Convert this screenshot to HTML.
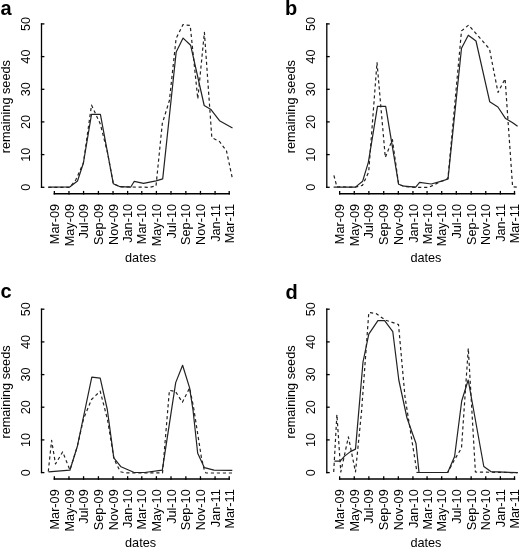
<!DOCTYPE html><html><head><meta charset="utf-8"><style>html,body{margin:0;padding:0;background:#fff;}svg{display:block;filter:grayscale(1);}text{font-family:"Liberation Sans", sans-serif;}</style></head><body>
<svg width="520" height="548" viewBox="0 0 520 548">
<rect width="520" height="548" fill="#fff"/>
<path d="M41.5 23.3V187.9" stroke="#000" stroke-width="1.3" fill="none"/>
<path d="M40.9 187.3H44.4" stroke="#000" stroke-width="1.3" fill="none"/>
<text transform="translate(29.60 187.30) rotate(-90)" text-anchor="middle" font-size="12.7">0</text>
<path d="M40.9 154.6H44.4" stroke="#000" stroke-width="1.3" fill="none"/>
<text transform="translate(29.60 154.62) rotate(-90)" text-anchor="middle" font-size="12.7">10</text>
<path d="M40.9 121.9H44.4" stroke="#000" stroke-width="1.3" fill="none"/>
<text transform="translate(29.60 121.94) rotate(-90)" text-anchor="middle" font-size="12.7">20</text>
<path d="M40.9 89.3H44.4" stroke="#000" stroke-width="1.3" fill="none"/>
<text transform="translate(29.60 89.26) rotate(-90)" text-anchor="middle" font-size="12.7">30</text>
<path d="M40.9 56.6H44.4" stroke="#000" stroke-width="1.3" fill="none"/>
<text transform="translate(29.60 56.58) rotate(-90)" text-anchor="middle" font-size="12.7">40</text>
<path d="M40.9 23.9H44.4" stroke="#000" stroke-width="1.3" fill="none"/>
<text transform="translate(29.60 23.90) rotate(-90)" text-anchor="middle" font-size="12.7">50</text>
<text transform="translate(9.60 106.70) rotate(-90)" text-anchor="middle" font-size="12.7">remaining seeds</text>
<path d="M53.65 193.80H229.90" stroke="#000" stroke-width="1.5" fill="none"/>
<path d="M54.35 194.50V190.90" stroke="#000" stroke-width="1.3" fill="none"/>
<text transform="translate(58.95 204.00) rotate(-90)" text-anchor="end" font-size="12.7">Mar-09</text>
<path d="M68.96 194.50V190.90" stroke="#000" stroke-width="1.3" fill="none"/>
<text transform="translate(73.56 204.00) rotate(-90)" text-anchor="end" font-size="12.7">May-09</text>
<path d="M83.57 194.50V190.90" stroke="#000" stroke-width="1.3" fill="none"/>
<text transform="translate(88.17 204.00) rotate(-90)" text-anchor="end" font-size="12.7">Jul-09</text>
<path d="M98.42 194.50V190.90" stroke="#000" stroke-width="1.3" fill="none"/>
<text transform="translate(103.02 204.00) rotate(-90)" text-anchor="end" font-size="12.7">Sep-09</text>
<path d="M113.03 194.50V190.90" stroke="#000" stroke-width="1.3" fill="none"/>
<text transform="translate(117.63 204.00) rotate(-90)" text-anchor="end" font-size="12.7">Nov-09</text>
<path d="M127.64 194.50V190.90" stroke="#000" stroke-width="1.3" fill="none"/>
<text transform="translate(132.24 204.00) rotate(-90)" text-anchor="end" font-size="12.7">Jan-10</text>
<path d="M141.78 194.50V190.90" stroke="#000" stroke-width="1.3" fill="none"/>
<text transform="translate(146.38 204.00) rotate(-90)" text-anchor="end" font-size="12.7">Mar-10</text>
<path d="M156.39 194.50V190.90" stroke="#000" stroke-width="1.3" fill="none"/>
<text transform="translate(160.99 204.00) rotate(-90)" text-anchor="end" font-size="12.7">May-10</text>
<path d="M171.00 194.50V190.90" stroke="#000" stroke-width="1.3" fill="none"/>
<text transform="translate(175.60 204.00) rotate(-90)" text-anchor="end" font-size="12.7">Jul-10</text>
<path d="M185.85 194.50V190.90" stroke="#000" stroke-width="1.3" fill="none"/>
<text transform="translate(190.45 204.00) rotate(-90)" text-anchor="end" font-size="12.7">Sep-10</text>
<path d="M200.46 194.50V190.90" stroke="#000" stroke-width="1.3" fill="none"/>
<text transform="translate(205.06 204.00) rotate(-90)" text-anchor="end" font-size="12.7">Nov-10</text>
<path d="M215.07 194.50V190.90" stroke="#000" stroke-width="1.3" fill="none"/>
<text transform="translate(219.67 204.00) rotate(-90)" text-anchor="end" font-size="12.7">Jan-11</text>
<path d="M229.20 194.50V190.90" stroke="#000" stroke-width="1.3" fill="none"/>
<text transform="translate(233.80 204.00) rotate(-90)" text-anchor="end" font-size="12.7">Mar-11</text>
<text x="140.60" y="261.70" text-anchor="middle" font-size="12.7">dates</text>
<text x="0.60" y="15.20" font-size="20" font-weight="bold">a</text>
<polyline points="48.3,187.2 70.0,186.8 77.5,181.0 83.4,163.0 91.5,114.4 100.4,114.4 113.3,183.7 120.1,186.7 130.6,187.2 134.3,181.3 143.5,183.3 156.0,180.9 162.7,178.9 176.2,51.9 183.1,38.1 190.6,45.2 204.2,105.5 211.0,109.6 219.5,120.7 232.5,127.9" fill="none" stroke="#222" stroke-width="1.2" stroke-linejoin="round"/>
<polyline points="48.3,187.3 70.0,187.3 75.7,180.0 83.4,163.0 91.5,105.1 100.3,124.0 107.5,152.5 113.3,183.7 120.1,186.8 149.2,187.3 156.0,186.0 162.3,123.5 169.4,100.5 176.1,38.5 183.0,24.6 190.2,25.5 197.8,99.0 204.4,32.3 211.8,137.5 219.5,141.5 226.5,151.0 232.5,179.0" fill="none" stroke="#222" stroke-width="1.2" stroke-dasharray="3.2 2.8" stroke-linejoin="round"/>
<path d="M326.8 23.3V187.9" stroke="#000" stroke-width="1.3" fill="none"/>
<path d="M326.2 187.3H329.7" stroke="#000" stroke-width="1.3" fill="none"/>
<text transform="translate(314.90 187.30) rotate(-90)" text-anchor="middle" font-size="12.7">0</text>
<path d="M326.2 154.6H329.7" stroke="#000" stroke-width="1.3" fill="none"/>
<text transform="translate(314.90 154.62) rotate(-90)" text-anchor="middle" font-size="12.7">10</text>
<path d="M326.2 121.9H329.7" stroke="#000" stroke-width="1.3" fill="none"/>
<text transform="translate(314.90 121.94) rotate(-90)" text-anchor="middle" font-size="12.7">20</text>
<path d="M326.2 89.3H329.7" stroke="#000" stroke-width="1.3" fill="none"/>
<text transform="translate(314.90 89.26) rotate(-90)" text-anchor="middle" font-size="12.7">30</text>
<path d="M326.2 56.6H329.7" stroke="#000" stroke-width="1.3" fill="none"/>
<text transform="translate(314.90 56.58) rotate(-90)" text-anchor="middle" font-size="12.7">40</text>
<path d="M326.2 23.9H329.7" stroke="#000" stroke-width="1.3" fill="none"/>
<text transform="translate(314.90 23.90) rotate(-90)" text-anchor="middle" font-size="12.7">50</text>
<text transform="translate(294.90 106.70) rotate(-90)" text-anchor="middle" font-size="12.7">remaining seeds</text>
<path d="M338.95 193.80H515.20" stroke="#000" stroke-width="1.5" fill="none"/>
<path d="M339.65 194.50V190.90" stroke="#000" stroke-width="1.3" fill="none"/>
<text transform="translate(344.25 204.00) rotate(-90)" text-anchor="end" font-size="12.7">Mar-09</text>
<path d="M354.26 194.50V190.90" stroke="#000" stroke-width="1.3" fill="none"/>
<text transform="translate(358.86 204.00) rotate(-90)" text-anchor="end" font-size="12.7">May-09</text>
<path d="M368.87 194.50V190.90" stroke="#000" stroke-width="1.3" fill="none"/>
<text transform="translate(373.47 204.00) rotate(-90)" text-anchor="end" font-size="12.7">Jul-09</text>
<path d="M383.72 194.50V190.90" stroke="#000" stroke-width="1.3" fill="none"/>
<text transform="translate(388.32 204.00) rotate(-90)" text-anchor="end" font-size="12.7">Sep-09</text>
<path d="M398.33 194.50V190.90" stroke="#000" stroke-width="1.3" fill="none"/>
<text transform="translate(402.93 204.00) rotate(-90)" text-anchor="end" font-size="12.7">Nov-09</text>
<path d="M412.94 194.50V190.90" stroke="#000" stroke-width="1.3" fill="none"/>
<text transform="translate(417.54 204.00) rotate(-90)" text-anchor="end" font-size="12.7">Jan-10</text>
<path d="M427.08 194.50V190.90" stroke="#000" stroke-width="1.3" fill="none"/>
<text transform="translate(431.68 204.00) rotate(-90)" text-anchor="end" font-size="12.7">Mar-10</text>
<path d="M441.69 194.50V190.90" stroke="#000" stroke-width="1.3" fill="none"/>
<text transform="translate(446.29 204.00) rotate(-90)" text-anchor="end" font-size="12.7">May-10</text>
<path d="M456.30 194.50V190.90" stroke="#000" stroke-width="1.3" fill="none"/>
<text transform="translate(460.90 204.00) rotate(-90)" text-anchor="end" font-size="12.7">Jul-10</text>
<path d="M471.15 194.50V190.90" stroke="#000" stroke-width="1.3" fill="none"/>
<text transform="translate(475.75 204.00) rotate(-90)" text-anchor="end" font-size="12.7">Sep-10</text>
<path d="M485.76 194.50V190.90" stroke="#000" stroke-width="1.3" fill="none"/>
<text transform="translate(490.36 204.00) rotate(-90)" text-anchor="end" font-size="12.7">Nov-10</text>
<path d="M500.37 194.50V190.90" stroke="#000" stroke-width="1.3" fill="none"/>
<text transform="translate(504.97 204.00) rotate(-90)" text-anchor="end" font-size="12.7">Jan-11</text>
<path d="M514.50 194.50V190.90" stroke="#000" stroke-width="1.3" fill="none"/>
<text transform="translate(519.10 204.00) rotate(-90)" text-anchor="end" font-size="12.7">Mar-11</text>
<text x="425.90" y="261.70" text-anchor="middle" font-size="12.7">dates</text>
<text x="284.90" y="15.20" font-size="20" font-weight="bold">b</text>
<polyline points="333.6,187.1 355.4,187.1 362.6,181.3 368.4,162.1 377.5,106.3 385.7,106.3 398.6,184.2 404.1,186.2 415.7,187.2 419.6,182.3 431.2,184.0 441.7,181.2 448.0,178.9 461.5,48.2 468.3,35.2 476.0,41.0 489.7,101.7 497.9,107.0 505.6,118.6 512.3,122.4 517.6,126.3" fill="none" stroke="#222" stroke-width="1.2" stroke-linejoin="round"/>
<polyline points="333.9,175.4 336.9,186.8 355.4,187.2 362.5,185.3 368.7,172.0 377.0,62.5 385.3,157.5 392.4,139.5 398.6,184.2 404.1,186.6 415.7,187.3 428.8,187.3 441.3,181.3 447.9,178.7 461.5,30.9 468.6,25.1 489.5,49.0 498.0,92.5 505.1,78.8 512.6,186.8 517.6,187.3" fill="none" stroke="#222" stroke-width="1.2" stroke-dasharray="3.2 2.8" stroke-linejoin="round"/>
<path d="M41.5 308.6V473.2" stroke="#000" stroke-width="1.3" fill="none"/>
<path d="M40.9 472.6H44.4" stroke="#000" stroke-width="1.3" fill="none"/>
<text transform="translate(29.60 472.60) rotate(-90)" text-anchor="middle" font-size="12.7">0</text>
<path d="M40.9 439.9H44.4" stroke="#000" stroke-width="1.3" fill="none"/>
<text transform="translate(29.60 439.92) rotate(-90)" text-anchor="middle" font-size="12.7">10</text>
<path d="M40.9 407.2H44.4" stroke="#000" stroke-width="1.3" fill="none"/>
<text transform="translate(29.60 407.24) rotate(-90)" text-anchor="middle" font-size="12.7">20</text>
<path d="M40.9 374.6H44.4" stroke="#000" stroke-width="1.3" fill="none"/>
<text transform="translate(29.60 374.56) rotate(-90)" text-anchor="middle" font-size="12.7">30</text>
<path d="M40.9 341.9H44.4" stroke="#000" stroke-width="1.3" fill="none"/>
<text transform="translate(29.60 341.88) rotate(-90)" text-anchor="middle" font-size="12.7">40</text>
<path d="M40.9 309.2H44.4" stroke="#000" stroke-width="1.3" fill="none"/>
<text transform="translate(29.60 309.20) rotate(-90)" text-anchor="middle" font-size="12.7">50</text>
<text transform="translate(9.60 392.00) rotate(-90)" text-anchor="middle" font-size="12.7">remaining seeds</text>
<path d="M53.65 479.10H229.90" stroke="#000" stroke-width="1.5" fill="none"/>
<path d="M54.35 479.80V476.20" stroke="#000" stroke-width="1.3" fill="none"/>
<text transform="translate(58.95 489.30) rotate(-90)" text-anchor="end" font-size="12.7">Mar-09</text>
<path d="M68.96 479.80V476.20" stroke="#000" stroke-width="1.3" fill="none"/>
<text transform="translate(73.56 489.30) rotate(-90)" text-anchor="end" font-size="12.7">May-09</text>
<path d="M83.57 479.80V476.20" stroke="#000" stroke-width="1.3" fill="none"/>
<text transform="translate(88.17 489.30) rotate(-90)" text-anchor="end" font-size="12.7">Jul-09</text>
<path d="M98.42 479.80V476.20" stroke="#000" stroke-width="1.3" fill="none"/>
<text transform="translate(103.02 489.30) rotate(-90)" text-anchor="end" font-size="12.7">Sep-09</text>
<path d="M113.03 479.80V476.20" stroke="#000" stroke-width="1.3" fill="none"/>
<text transform="translate(117.63 489.30) rotate(-90)" text-anchor="end" font-size="12.7">Nov-09</text>
<path d="M127.64 479.80V476.20" stroke="#000" stroke-width="1.3" fill="none"/>
<text transform="translate(132.24 489.30) rotate(-90)" text-anchor="end" font-size="12.7">Jan-10</text>
<path d="M141.78 479.80V476.20" stroke="#000" stroke-width="1.3" fill="none"/>
<text transform="translate(146.38 489.30) rotate(-90)" text-anchor="end" font-size="12.7">Mar-10</text>
<path d="M156.39 479.80V476.20" stroke="#000" stroke-width="1.3" fill="none"/>
<text transform="translate(160.99 489.30) rotate(-90)" text-anchor="end" font-size="12.7">May-10</text>
<path d="M171.00 479.80V476.20" stroke="#000" stroke-width="1.3" fill="none"/>
<text transform="translate(175.60 489.30) rotate(-90)" text-anchor="end" font-size="12.7">Jul-10</text>
<path d="M185.85 479.80V476.20" stroke="#000" stroke-width="1.3" fill="none"/>
<text transform="translate(190.45 489.30) rotate(-90)" text-anchor="end" font-size="12.7">Sep-10</text>
<path d="M200.46 479.80V476.20" stroke="#000" stroke-width="1.3" fill="none"/>
<text transform="translate(205.06 489.30) rotate(-90)" text-anchor="end" font-size="12.7">Nov-10</text>
<path d="M215.07 479.80V476.20" stroke="#000" stroke-width="1.3" fill="none"/>
<text transform="translate(219.67 489.30) rotate(-90)" text-anchor="end" font-size="12.7">Jan-11</text>
<path d="M229.20 479.80V476.20" stroke="#000" stroke-width="1.3" fill="none"/>
<text transform="translate(233.80 489.30) rotate(-90)" text-anchor="end" font-size="12.7">Mar-11</text>
<text x="140.60" y="547.00" text-anchor="middle" font-size="12.7">dates</text>
<text x="0.60" y="298.40" font-size="20" font-weight="bold">c</text>
<polyline points="48.5,471.9 69.9,470.2 77.3,446.5 91.8,377.2 100.2,378.2 107.3,409.5 113.8,457.9 121.0,466.8 133.7,472.3 144.6,472.5 162.3,470.1 175.7,382.6 182.6,365.3 189.6,387.9 193.0,410.0 197.7,453.3 204.4,467.7 214.0,470.1 232.3,470.4" fill="none" stroke="#222" stroke-width="1.2" stroke-linejoin="round"/>
<polyline points="48.3,471.5 51.6,440.4 55.5,463.9 62.7,451.9 69.9,470.0 77.3,446.5 83.5,419.0 91.5,399.5 100.2,391.2 107.5,419.5 113.8,458.0 116.3,463.7 120.4,471.7 125.0,472.9 162.5,472.9 169.4,390.3 175.5,391.5 182.4,402.3 189.6,387.9 193.5,407.0 201.5,458.1 204.4,470.6 206.0,473.0 232.3,473.0" fill="none" stroke="#222" stroke-width="1.2" stroke-dasharray="3.2 2.8" stroke-linejoin="round"/>
<path d="M326.8 308.6V473.2" stroke="#000" stroke-width="1.3" fill="none"/>
<path d="M326.2 472.6H329.7" stroke="#000" stroke-width="1.3" fill="none"/>
<text transform="translate(314.90 472.60) rotate(-90)" text-anchor="middle" font-size="12.7">0</text>
<path d="M326.2 439.9H329.7" stroke="#000" stroke-width="1.3" fill="none"/>
<text transform="translate(314.90 439.92) rotate(-90)" text-anchor="middle" font-size="12.7">10</text>
<path d="M326.2 407.2H329.7" stroke="#000" stroke-width="1.3" fill="none"/>
<text transform="translate(314.90 407.24) rotate(-90)" text-anchor="middle" font-size="12.7">20</text>
<path d="M326.2 374.6H329.7" stroke="#000" stroke-width="1.3" fill="none"/>
<text transform="translate(314.90 374.56) rotate(-90)" text-anchor="middle" font-size="12.7">30</text>
<path d="M326.2 341.9H329.7" stroke="#000" stroke-width="1.3" fill="none"/>
<text transform="translate(314.90 341.88) rotate(-90)" text-anchor="middle" font-size="12.7">40</text>
<path d="M326.2 309.2H329.7" stroke="#000" stroke-width="1.3" fill="none"/>
<text transform="translate(314.90 309.20) rotate(-90)" text-anchor="middle" font-size="12.7">50</text>
<text transform="translate(294.90 392.00) rotate(-90)" text-anchor="middle" font-size="12.7">remaining seeds</text>
<path d="M338.95 479.10H515.20" stroke="#000" stroke-width="1.5" fill="none"/>
<path d="M339.65 479.80V476.20" stroke="#000" stroke-width="1.3" fill="none"/>
<text transform="translate(344.25 489.30) rotate(-90)" text-anchor="end" font-size="12.7">Mar-09</text>
<path d="M354.26 479.80V476.20" stroke="#000" stroke-width="1.3" fill="none"/>
<text transform="translate(358.86 489.30) rotate(-90)" text-anchor="end" font-size="12.7">May-09</text>
<path d="M368.87 479.80V476.20" stroke="#000" stroke-width="1.3" fill="none"/>
<text transform="translate(373.47 489.30) rotate(-90)" text-anchor="end" font-size="12.7">Jul-09</text>
<path d="M383.72 479.80V476.20" stroke="#000" stroke-width="1.3" fill="none"/>
<text transform="translate(388.32 489.30) rotate(-90)" text-anchor="end" font-size="12.7">Sep-09</text>
<path d="M398.33 479.80V476.20" stroke="#000" stroke-width="1.3" fill="none"/>
<text transform="translate(402.93 489.30) rotate(-90)" text-anchor="end" font-size="12.7">Nov-09</text>
<path d="M412.94 479.80V476.20" stroke="#000" stroke-width="1.3" fill="none"/>
<text transform="translate(417.54 489.30) rotate(-90)" text-anchor="end" font-size="12.7">Jan-10</text>
<path d="M427.08 479.80V476.20" stroke="#000" stroke-width="1.3" fill="none"/>
<text transform="translate(431.68 489.30) rotate(-90)" text-anchor="end" font-size="12.7">Mar-10</text>
<path d="M441.69 479.80V476.20" stroke="#000" stroke-width="1.3" fill="none"/>
<text transform="translate(446.29 489.30) rotate(-90)" text-anchor="end" font-size="12.7">May-10</text>
<path d="M456.30 479.80V476.20" stroke="#000" stroke-width="1.3" fill="none"/>
<text transform="translate(460.90 489.30) rotate(-90)" text-anchor="end" font-size="12.7">Jul-10</text>
<path d="M471.15 479.80V476.20" stroke="#000" stroke-width="1.3" fill="none"/>
<text transform="translate(475.75 489.30) rotate(-90)" text-anchor="end" font-size="12.7">Sep-10</text>
<path d="M485.76 479.80V476.20" stroke="#000" stroke-width="1.3" fill="none"/>
<text transform="translate(490.36 489.30) rotate(-90)" text-anchor="end" font-size="12.7">Nov-10</text>
<path d="M500.37 479.80V476.20" stroke="#000" stroke-width="1.3" fill="none"/>
<text transform="translate(504.97 489.30) rotate(-90)" text-anchor="end" font-size="12.7">Jan-11</text>
<path d="M514.50 479.80V476.20" stroke="#000" stroke-width="1.3" fill="none"/>
<text transform="translate(519.10 489.30) rotate(-90)" text-anchor="end" font-size="12.7">Mar-11</text>
<text x="425.90" y="547.00" text-anchor="middle" font-size="12.7">dates</text>
<text x="285.60" y="298.50" font-size="20" font-weight="bold">d</text>
<polyline points="334.4,461.2 340.1,461.2 344.6,456.1 350.4,451.6 355.5,449.1 363.0,362.0 368.8,334.1 377.9,320.7 384.6,320.7 392.8,331.7 398.8,380.0 407.0,418.0 416.0,443.5 419.0,472.5 447.7,472.5 454.6,456.5 461.7,401.0 468.2,380.0 483.8,466.5 490.8,471.6 517.7,472.7" fill="none" stroke="#222" stroke-width="1.2" stroke-linejoin="round"/>
<polyline points="333.7,472.0 336.9,414.6 340.8,472.0 348.4,436.9 355.5,472.0 361.5,412.0 368.8,312.5 376.0,313.5 385.6,320.2 398.5,324.5 405.0,397.0 417.0,472.5 447.7,472.5 454.6,459.6 461.5,448.0 468.3,348.2 475.4,472.0 517.7,472.7" fill="none" stroke="#222" stroke-width="1.2" stroke-dasharray="3.2 2.8" stroke-linejoin="round"/>
</svg></body></html>
